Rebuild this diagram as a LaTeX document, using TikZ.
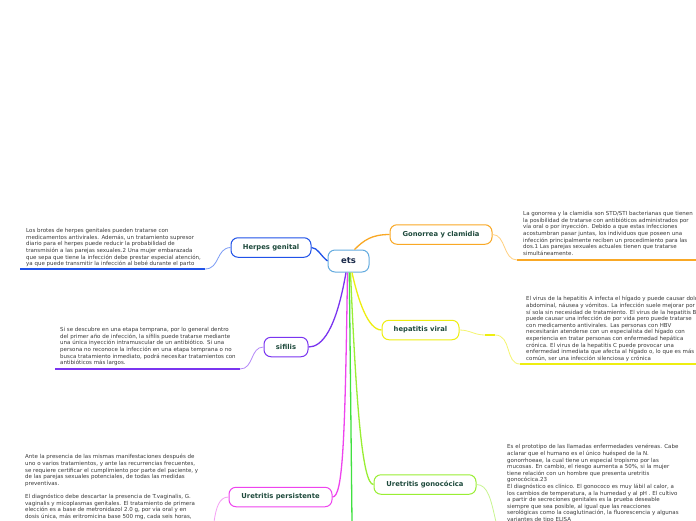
\documentclass[tikz,border=0pt]{standalone}
\usepackage{fontspec}
\setmainfont{DejaVu Sans}
\definecolor{nodetext}{HTML}{1E4A3C}
\definecolor{bodytext}{HTML}{3A3A3A}
\definecolor{etstext}{HTML}{1A2A4A}
\definecolor{etsc}{HTML}{64ACDF}
\definecolor{herc}{HTML}{2052E8}
\definecolor{herl}{HTML}{7C9CF5}
\definecolor{gonc}{HTML}{F9A825}
\definecolor{gonl}{HTML}{FFD080}
\definecolor{hepc}{HTML}{EEEE10}
\definecolor{hepl}{HTML}{F5F570}
\definecolor{sifc}{HTML}{7A35F0}
\definecolor{sifl}{HTML}{B488F8}
\definecolor{upc}{HTML}{EE44EE}
\definecolor{upl}{HTML}{F5A0F5}
\definecolor{ugc}{HTML}{99EE33}
\definecolor{ugl}{HTML}{C8F590}
\definecolor{grc}{HTML}{40E040}
\begin{document}
\begin{tikzpicture}[x=1pt,y=-1pt,
  topic/.style={draw, fill=white, rounded corners=7pt, line width=1pt,
    font=\bfseries\fontsize{6.8}{8}\selectfont, text=nodetext,
    minimum height=19.5pt, inner sep=0pt},
  body/.style={anchor=north west, align=left, inner sep=0pt,
    font=\fontsize{5.5}{6.6}\selectfont, text=bodytext},
  branch/.style={line width=1.3pt},
  link/.style={line width=0.8pt},
  under/.style={line width=1.5pt}]
\useasboundingbox[fill=white] (0,0) rectangle (696,520);

% central node
\node[topic, draw=etsc, minimum width=41pt, minimum height=22pt,
  font=\bfseries\fontsize{8.5}{10}\selectfont, text=etstext] (ets) at (348.5,261) {ets};

% topic nodes
\node[topic, draw=herc, minimum width=80pt] (herpes) at (271,247.5) {Herpes genital};
\node[topic, draw=gonc, minimum width=102pt] (gon) at (441,234.5) {Gonorrea y clamidia};
\node[topic, draw=hepc, minimum width=77pt] (hep) at (420.5,330) {hepatitis viral};
\node[topic, draw=sifc, minimum width=44pt] (sif) at (286,347) {sifilis};
\node[topic, draw=upc, minimum width=103pt] (uretp) at (280.5,497) {Uretritis persistente};
\node[topic, draw=ugc, minimum width=102pt] (uretg) at (425,484.5) {Uretritis gonocócica};

% branches from ets
\coordinate (gend) at (352,522);
\draw[branch, herc] (ets.west) .. controls (320,255) and (318,248) .. (herpes.east);
\draw[branch, gonc] ([xshift=6pt]ets.north) .. controls (364,240) and (372,234.5) .. (gon.west);
\draw[branch, sifc] ([xshift=-2.5pt]ets.south) .. controls (336,330) and (322,347) .. (sif.east);
\draw[branch, upc] ([xshift=-1pt]ets.south) .. controls (345,440) and (343,497) .. (uretp.east);
\draw[branch, grc] ([xshift=0.8pt]ets.south) -- (gend);
\draw[branch, ugc] ([xshift=2pt]ets.south) .. controls (356,400) and (362,484.5) .. (uretg.west);
\draw[branch, hepc] ([xshift=3.5pt]ets.south) .. controls (358,300) and (368,330) .. (hep.west);

% text blocks
\node[body] (htext) at (26,228.3) {Los brotes de herpes genitales pueden tratarse con\\
medicamentos antivirales. Además, un tratamiento supresor\\
diario para el herpes puede reducir la probabilidad de\\
transmisión a las parejas sexuales.2 Una mujer embarazada\\
que sepa que tiene la infección debe prestar especial atención,\\
ya que puede transmitir la infección al bebé durante el parto};

\node[body] (gtext) at (523,211.3) {La gonorrea y la clamidia son STD/STI bacterianas que tienen\\
la posibilidad de tratarse con antibióticos administrados por\\
vía oral o por inyección. Debido a que estas infecciones\\
acostumbran pasar juntas, los individuos que poseen una\\
infección principalmente reciben un procedimiento para las\\
dos.1 Las parejas sexuales actuales tienen que tratarse\\
simultáneamente.};

\node[body] (heptext) at (526,296.3) {El virus de la hepatitis A infecta el hígado y puede causar dolor\\
abdominal, náusea y vómitos. La infección suele mejorar por\\
sí sola sin necesidad de tratamiento. El virus de la hepatitis B\\
puede causar una infección de por vida pero puede tratarse\\
con medicamento antivirales. Las personas con HBV\\
necesitarán atenderse con un especialista del hígado con\\
experiencia en tratar personas con enfermedad hepática\\
crónica. El virus de la hepatitis C puede provocar una\\
enfermedad inmediata que afecta al hígado o, lo que es más\\
común, ser una infección silenciosa y crónica};

\node[body] (stext) at (60,327.3) {Si se descubre en una etapa temprana, por lo general dentro\\
del primer año de infección, la sífilis puede tratarse mediante\\
una única inyección intramuscular de un antibiótico. Si una\\
persona no reconoce la infección en una etapa temprana o no\\
busca tratamiento inmediato, podrá necesitar tratamientos con\\
antibióticos más largos.};

\node[body] (uptext) at (25,454.3) {Ante la presencia de las mismas manifestaciones después de\\
uno o varios tratamientos, y ante las recurrencias frecuentes,\\
se requiere certificar el cumplimiento por parte del paciente, y\\
de las parejas sexuales potenciales, de todas las medidas\\
preventivas.\\[6.6pt]
El diagnóstico debe descartar la presencia de T.vaginalis, G.\\
vaginalis y micoplasmas genitales. El tratamiento de primera\\
elección es a base de metronidazol 2.0 g, por vía oral y en\\
dosis única, más eritromicina base 500 mg, cada seis horas,};

\node[body] (ugtext) at (507,444.3) {Es el prototipo de las llamadas enfermedades venéreas. Cabe\\
aclarar que el humano es el único huésped de la N.\\
gonorrhoeae, la cual tiene un especial tropismo por las\\
mucosas. En cambio, el riesgo aumenta a 50\%, si la mujer\\
tiene relación con un hombre que presenta uretritis\\
gonocócica.23\\
El diagnóstico es clínico. El gonococo es muy lábil al calor, a\\
los cambios de temperatura, a la humedad y al pH . El cultivo\\
a partir de secreciones genitales es la prueba deseable\\
siempre que sea posible, al igual que las reacciones\\
serológicas como la coaglutinación, la fluorescencia y algunas\\
variantes de tipo ELISA};

% underlines and links
\coordinate (hu1) at (20,269);
\coordinate (hu2) at (205,269);
\draw[under, herc] (hu1) -- (hu2);
\draw[link, herl] (herpes.west) .. controls (216,248) and (220,269) .. (hu2);

\coordinate (gu1) at (517,260);
\coordinate (gu2) at (697,260);
\draw[under, gonc] (gu1) -- (gu2);
\draw[link, gonl] (gon.east) .. controls (506,234.5) and (503,260) .. (gu1);

\coordinate (hp1) at (485,335);
\coordinate (hp2) at (495,335);
\coordinate (hu3) at (520,364);
\coordinate (hu4) at (697,364);
\draw[under, hepc] (hu3) -- (hu4);
\draw[link, hepl] (hep.east) .. controls (470,330) and (474,335) .. (hp1);
\draw[under, hepc] (hp1) -- (hp2);
\draw[link, hepl] (hp2) .. controls (512,335) and (505,364) .. (hu3);

\coordinate (su1) at (55,369);
\coordinate (su2) at (240,369);
\draw[under, sifc] (su1) -- (su2);
\draw[link, sifl] (sif.west) .. controls (250,347) and (254,369) .. (su2);

\coordinate (upend) at (214,522);
\draw[link, upl] (uretp.west) .. controls (219,497) and (216,508) .. (upend);

\coordinate (ugend) at (496,522);
\draw[link, ugl] (uretg.east) .. controls (488,484.5) and (491,500) .. (ugend);
\end{tikzpicture}
\end{document}
